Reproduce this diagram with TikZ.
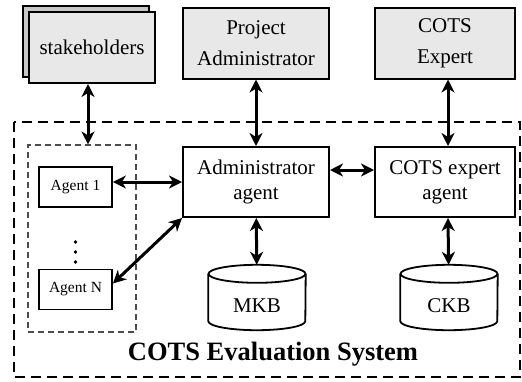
\documentclass[tikz,border=0pt]{standalone}
\usepackage{fontspec}
\setmainfont{Liberation Serif}
\usetikzlibrary{shapes.geometric, arrows.meta, positioning, fit, shadows}

\begin{document}
\begin{tikzpicture}[
  x=1pt, y=-1pt,
  box/.style     = {draw, line width=2pt, minimum width=146pt,
                    minimum height=71pt, align=center,
                    font=\fontsize{21}{31}\selectfont},
  actor/.style   = {box, fill=black!9},
  agbox/.style   = {draw, line width=1.8pt, minimum width=73pt,
                    minimum height=40pt, font=\fontsize{15.5}{17}\selectfont},
  db/.style      = {minimum width=97pt, minimum height=65pt, inner sep=0pt,
                    text height=29pt, text depth=0pt,
                    font=\fontsize{21}{23}\selectfont},
  dbline/.style  = {line width=1.8pt},
  arr/.style     = {{Stealth[length=13pt, width=13pt, inset=4pt]}-{Stealth[length=13pt, width=13pt, inset=4pt]},
                    line width=3pt},
]
  \useasboundingbox (0,0) rectangle (522,381);

  % outer system frame
  \draw[line width=1.8pt, dash pattern=on 10pt off 6pt] (14,122) rectangle (520,377);
  \node[font=\fontsize{26.5}{28}\selectfont\bfseries, anchor=base] (title) at (273,360)
    {COTS Evaluation System};

  % actors
  \node[actor, minimum width=126pt,
        copy shadow={shadow xshift=-6pt, shadow yshift=6pt, fill=black!22}]
        (stk)  at (92,47.5) {stakeholders};
  \node[actor] (padm) at (256,43)  {Project\\Administrator};
  \node[actor, minimum width=140pt] (cexp) at (445,43) {COTS\\Expert};

  % agents
  \node[box, minimum height=70pt, font=\fontsize{21}{25}\selectfont]
        (aadm) at (256,182) {Administrator\\agent};
  \node[box, minimum height=70pt, minimum width=140pt, font=\fontsize{21}{25}\selectfont]
        (cagt) at (445,182) {COTS expert\\agent};

  \node[agbox] (ag1) at (75.5,187)   {Agent 1};
  \node[agbox] (agN) at (75.5,289.5) {Agent N};
  \foreach \y in {242,252,262}
    \fill (75.5,\y) circle (1.8pt);
  \node[draw=black!70, line width=1.1pt, dash pattern=on 6pt off 4pt,
        inner sep=0pt, minimum width=108pt, minimum height=187pt]
        (grp) at (82,238.5) {};

  % knowledge bases
  \node[db] (mkb) at (257,297.5) {MKB};
  \node[db] (ckb) at (449,297.5) {CKB};
  \foreach \n in {mkb,ckb} {
    \draw[dbline] ([yshift=-9pt]\n.north west) -- ([yshift=9pt]\n.south west)
      arc[start angle=180, end angle=360, x radius=48.5pt, y radius=9pt]
      -- ([yshift=-9pt]\n.north east);
    \draw[dbline] ([yshift=-9pt]\n.north) ellipse[x radius=48.5pt, y radius=9pt];
  }

  \draw[arr] ([xshift=-4pt]stk.south) -- ([xshift=-4pt]stk.south |- grp.north);
  \draw[arr] (padm) -- (aadm);
  \draw[arr] ([xshift=3pt]cexp.south) -- ([xshift=3pt]cagt.north);
  \draw[arr] (aadm.west -| ag1.east) -- (aadm.west);
  \draw[arr] ([yshift=6pt]agN.east) -- (aadm.south west);
  \draw[arr] ([yshift=12pt]aadm.east) -- ([yshift=12pt]cagt.west);
  \draw[arr] (aadm) -- (mkb);
  \draw[arr] ([xshift=3pt]cagt.south) -- (ckb);
\end{tikzpicture}
\end{document}
